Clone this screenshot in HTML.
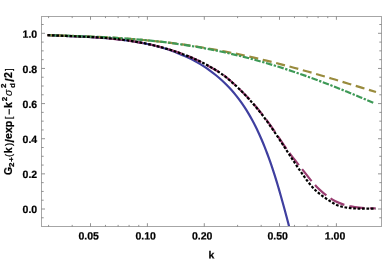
<!DOCTYPE html>
<html><head><meta charset="utf-8"><title>plot</title>
<style>
html,body{margin:0;padding:0;background:#fff;}
body{width:382px;height:261px;overflow:hidden;position:relative;font-family:"Liberation Sans",sans-serif;}
</style></head><body>
<svg width="382" height="261" viewBox="0 0 382 261" style="position:absolute;left:0;top:0">
<rect x="0" y="0" width="382" height="261" fill="#fff"/>
<defs><clipPath id="c"><rect x="41.5" y="16.5" width="340.0" height="210.0"/></clipPath></defs>
<g clip-path="url(#c)" fill="none" stroke-width="2.1" stroke-linejoin="round">
<path d="M47.55,35.07C49.99,35.20 52.42,35.33 54.85,35.44C57.29,35.55 59.72,35.66 62.16,35.76C64.59,35.87 67.03,35.97 69.47,36.07C71.90,36.17 74.34,36.28 76.78,36.39C79.21,36.49 81.65,36.60 84.09,36.72C86.53,36.84 88.96,36.97 91.40,37.11C93.84,37.25 96.27,37.40 98.71,37.56C101.15,37.73 103.58,37.91 106.02,38.11C108.45,38.31 110.89,38.53 113.32,38.77C115.75,39.01 118.18,39.27 120.62,39.56C123.05,39.85 125.48,40.17 127.90,40.51C130.33,40.85 132.76,41.23 135.18,41.64C137.61,42.04 140.03,42.48 142.45,42.96C144.86,43.44 147.28,43.95 149.68,44.50C152.08,45.05 154.47,45.64 156.86,46.27C159.24,46.89 161.60,47.56 163.96,48.28C166.31,48.99 168.65,49.75 170.97,50.56C173.28,51.36 175.58,52.21 177.86,53.11C180.13,54.01 182.39,54.96 184.62,55.96C186.84,56.96 189.05,58.01 191.22,59.12C193.39,60.23 195.53,61.39 197.64,62.60C199.75,63.82 201.83,65.10 203.88,66.42C205.92,67.75 207.92,69.13 209.89,70.57C211.86,72.00 213.79,73.48 215.68,75.02C217.57,76.55 219.41,78.14 221.21,79.77C223.02,81.40 224.77,83.08 226.48,84.80C228.19,86.52 229.86,88.29 231.47,90.10C233.08,91.92 234.64,93.77 236.15,95.66C237.67,97.56 239.13,99.49 240.55,101.46C241.97,103.43 243.34,105.43 244.68,107.47C246.01,109.51 247.30,111.57 248.55,113.67C249.80,115.77 251.01,117.89 252.18,120.05C253.35,122.20 254.48,124.37 255.58,126.57C256.68,128.77 257.75,130.99 258.78,133.22C259.81,135.46 260.82,137.72 261.79,139.99C262.76,142.26 263.70,144.54 264.62,146.83C265.53,149.13 266.42,151.43 267.29,153.75C268.15,156.06 268.99,158.38 269.81,160.70C270.63,163.03 271.43,165.35 272.20,167.68C272.98,170.01 273.74,172.34 274.49,174.67C275.23,177.00 275.95,179.33 276.67,181.66C277.38,184.00 278.08,186.33 278.76,188.67C279.45,191.01 280.12,193.35 280.78,195.69C281.45,198.03 282.10,200.37 282.75,202.71C283.39,205.06 284.03,207.40 284.67,209.75C285.30,212.10 285.93,214.45 286.55,216.80C287.18,219.15 287.80,221.51 288.42,223.87C289.04,226.22 289.67,228.58 290.29,230.94" stroke="#3f3f9f" stroke-width="2.2"/>
<path d="M47.53,35.17C50.25,35.27 52.97,35.37 55.70,35.47C58.42,35.57 61.15,35.67 63.89,35.77C66.62,35.87 69.36,35.98 72.10,36.10C74.83,36.21 77.58,36.33 80.32,36.47C83.06,36.60 85.80,36.75 88.54,36.90C91.28,37.06 94.03,37.24 96.77,37.43C99.51,37.62 102.24,37.83 104.98,38.06C107.71,38.29 110.45,38.54 113.18,38.82C115.90,39.10 118.63,39.40 121.35,39.73C124.07,40.06 126.78,40.42 129.49,40.81C132.19,41.20 134.89,41.62 137.59,42.08C140.28,42.53 142.96,43.03 145.64,43.56C148.32,44.09 150.98,44.66 153.64,45.27C156.30,45.89 158.94,46.54 161.58,47.24C164.21,47.94 166.84,48.69 169.45,49.48C172.06,50.28 174.66,51.12 177.24,52.02C179.83,52.91 182.40,53.86 184.96,54.87C187.51,55.87 190.05,56.93 192.58,58.06C195.10,59.18 197.61,60.36 200.10,61.60C202.59,62.83 205.05,64.12 207.48,65.45C209.90,66.77 212.29,68.12 214.62,69.50C216.95,70.87 219.23,72.22 221.45,73.67C223.66,75.13 225.82,76.75 227.93,78.50C230.04,80.25 232.10,82.11 234.12,84.01C236.15,85.90 238.15,87.81 240.11,89.73C242.08,91.65 244.01,93.58 245.91,95.54C247.81,97.50 249.68,99.49 251.51,101.52C253.34,103.54 255.13,105.61 256.89,107.70C258.65,109.80 260.38,111.93 262.07,114.08C263.76,116.23 265.42,118.42 267.05,120.62C268.68,122.83 270.28,125.05 271.85,127.30C273.41,129.54 274.95,131.81 276.48,134.08C278.00,136.35 279.51,138.63 281.04,140.90C282.56,143.17 284.09,145.43 285.65,147.67C287.21,149.91 288.80,152.13 290.44,154.31C292.08,156.50 293.77,158.65 295.47,160.80C297.17,162.94 298.88,165.07 300.59,167.22C302.29,169.37 303.97,171.53 305.65,173.69C307.33,175.86 309.02,178.01 310.75,180.12C312.48,182.23 314.25,184.29 316.13,186.27C318.00,188.24 319.98,190.11 322.08,191.87C324.17,193.64 326.33,195.34 328.52,196.99C330.71,198.63 333.01,200.09 335.44,201.32C337.87,202.55 340.40,203.56 343.00,204.40C345.60,205.23 348.25,205.88 350.94,206.40C353.63,206.91 356.35,207.28 359.09,207.56C361.83,207.83 364.58,208.01 367.32,208.14C370.06,208.27 372.79,208.34 375.49,208.41" stroke="#993d71" stroke-width="2.2" stroke-dasharray="15.3 5.2" stroke-dashoffset="1.27"/>
<path d="M47.50,35.18C52.06,35.30 56.62,35.42 61.19,35.56C65.75,35.69 70.31,35.83 74.88,35.98C79.44,36.14 84.00,36.31 88.56,36.49C93.12,36.68 97.69,36.89 102.25,37.12C106.81,37.35 111.38,37.61 115.94,37.89C120.50,38.18 125.06,38.49 129.62,38.84C134.19,39.18 138.75,39.56 143.31,39.98C147.88,40.39 152.44,40.84 157.00,41.32C161.56,41.81 166.12,42.33 170.69,42.89C175.25,43.46 179.81,44.06 184.38,44.70C188.94,45.34 193.50,46.03 198.06,46.75C202.62,47.47 207.19,48.24 211.75,49.05C216.31,49.85 220.88,50.70 225.44,51.59C230.00,52.47 234.56,53.40 239.12,54.37C243.69,55.34 248.25,56.34 252.81,57.39C257.38,58.43 261.94,59.51 266.50,60.63C271.06,61.74 275.62,62.89 280.19,64.08C284.75,65.26 289.31,66.47 293.88,67.72C298.44,68.96 303.00,70.23 307.56,71.53C312.12,72.82 316.69,74.14 321.25,75.48C325.81,76.81 330.38,78.17 334.94,79.54C339.50,80.91 344.06,82.29 348.62,83.69C353.19,85.08 357.75,86.47 362.31,87.87C366.88,89.27 371.44,90.67 376.00,92.07" stroke="#998b3d" stroke-width="2.2" stroke-dasharray="9.1 4.7" stroke-dashoffset="3.67"/>
<path d="M47.50,35.16C52.03,35.30 56.56,35.43 61.09,35.57C65.62,35.71 70.15,35.84 74.68,35.99C79.21,36.14 83.74,36.30 88.28,36.48C92.81,36.66 97.34,36.85 101.87,37.07C106.40,37.29 110.93,37.54 115.46,37.81C119.99,38.09 124.52,38.39 129.05,38.73C133.58,39.07 138.11,39.44 142.64,39.86C147.17,40.27 151.70,40.72 156.23,41.22C160.76,41.72 165.29,42.26 169.82,42.84C174.36,43.43 178.89,44.06 183.42,44.75C187.95,45.43 192.48,46.16 197.01,46.95C201.54,47.73 206.07,48.57 210.60,49.46C215.13,50.35 219.66,51.29 224.19,52.28C228.72,53.28 233.25,54.33 237.78,55.43C242.31,56.53 246.84,57.69 251.38,58.90C255.91,60.11 260.44,61.37 264.97,62.69C269.50,64.01 274.03,65.37 278.56,66.79C283.09,68.21 287.62,69.68 292.15,71.20C296.68,72.72 301.21,74.29 305.74,75.90C310.27,77.51 314.80,79.17 319.33,80.87C323.86,82.57 328.39,84.31 332.93,86.09C337.46,87.87 341.99,89.69 346.52,91.54C351.05,93.39 355.58,95.27 360.11,97.18C364.64,99.09 369.17,101.03 373.70,102.99" stroke="#3d9956" stroke-width="2.2" stroke-dasharray="6.5 1.6 2.3 1.6" stroke-dashoffset="7.03"/>
<path d="M47.52,35.05C50.26,35.22 53.00,35.36 55.74,35.50C58.49,35.63 61.24,35.75 63.99,35.87C66.74,35.98 69.49,36.10 72.25,36.21C75.00,36.32 77.76,36.43 80.51,36.55C83.27,36.67 86.03,36.79 88.78,36.93C91.54,37.07 94.29,37.22 97.05,37.40C99.80,37.57 102.55,37.76 105.30,37.98C108.05,38.20 110.79,38.44 113.53,38.71C116.28,38.99 119.01,39.30 121.75,39.64C124.48,39.98 127.21,40.35 129.93,40.76C132.65,41.17 135.36,41.61 138.07,42.09C140.78,42.57 143.48,43.09 146.17,43.65C148.86,44.21 151.54,44.81 154.21,45.45C156.88,46.09 159.54,46.77 162.19,47.49C164.84,48.22 167.48,48.99 170.11,49.80C172.74,50.61 175.35,51.47 177.95,52.38C180.55,53.28 183.14,54.24 185.71,55.24C188.28,56.24 190.84,57.30 193.38,58.40C195.92,59.51 198.44,60.66 200.94,61.87C203.44,63.08 205.91,64.35 208.34,65.67C210.76,67.00 213.14,68.38 215.44,69.83C217.75,71.28 219.98,72.79 222.17,74.39C224.35,75.98 226.51,77.66 228.62,79.40C230.74,81.15 232.83,82.96 234.87,84.83C236.92,86.69 238.93,88.61 240.89,90.56C242.85,92.51 244.78,94.49 246.66,96.51C248.54,98.52 250.39,100.57 252.20,102.65C254.00,104.72 255.78,106.83 257.51,108.96C259.25,111.09 260.95,113.25 262.62,115.43C264.29,117.62 265.93,119.82 267.54,122.05C269.15,124.27 270.73,126.52 272.29,128.78C273.85,131.04 275.39,133.32 276.91,135.60C278.44,137.89 279.95,140.19 281.45,142.49C282.96,144.80 284.45,147.11 285.95,149.42C287.45,151.73 288.95,154.04 290.46,156.35C291.96,158.65 293.48,160.96 295.01,163.25C296.54,165.55 298.08,167.84 299.65,170.11C301.22,172.39 302.81,174.65 304.43,176.89C306.05,179.14 307.69,181.37 309.41,183.53C311.12,185.69 312.92,187.76 314.85,189.69C316.78,191.61 318.87,193.34 321.05,194.98C323.24,196.62 325.52,198.17 327.81,199.72C330.11,201.27 332.45,202.80 334.89,204.05C337.33,205.31 339.90,206.25 342.57,206.86C345.24,207.48 347.98,207.85 350.72,208.12C353.46,208.38 356.21,208.53 358.97,208.60C361.73,208.68 364.50,208.69 367.25,208.69C370.01,208.68 372.76,208.67 375.50,208.70" stroke="#000000" stroke-width="2.2" stroke-dasharray="2.7 1.7" stroke-dashoffset="4.40"/>
</g>
<g stroke="#a6a6a6" stroke-width="1" fill="none" shape-rendering="crispEdges">
<rect x="41.5" y="16.5" width="340.0" height="210.0"/>
</g>
<path d="M41.5,217.78h2.2 M381.5,217.78h-2.2 M41.5,209.00h3.5 M381.5,209.00h-3.5 M41.5,200.21h2.2 M381.5,200.21h-2.2 M41.5,191.43h2.2 M381.5,191.43h-2.2 M41.5,182.64h2.2 M381.5,182.64h-2.2 M41.5,173.86h3.5 M381.5,173.86h-3.5 M41.5,165.07h2.2 M381.5,165.07h-2.2 M41.5,156.29h2.2 M381.5,156.29h-2.2 M41.5,147.50h2.2 M381.5,147.50h-2.2 M41.5,138.72h3.5 M381.5,138.72h-3.5 M41.5,129.94h2.2 M381.5,129.94h-2.2 M41.5,121.15h2.2 M381.5,121.15h-2.2 M41.5,112.36h2.2 M381.5,112.36h-2.2 M41.5,103.58h3.5 M381.5,103.58h-3.5 M41.5,94.79h2.2 M381.5,94.79h-2.2 M41.5,86.01h2.2 M381.5,86.01h-2.2 M41.5,77.22h2.2 M381.5,77.22h-2.2 M41.5,68.44h3.5 M381.5,68.44h-3.5 M41.5,59.65h2.2 M381.5,59.65h-2.2 M41.5,50.87h2.2 M381.5,50.87h-2.2 M41.5,42.08h2.2 M381.5,42.08h-2.2 M41.5,33.30h3.5 M381.5,33.30h-3.5 M41.5,24.51h2.2 M381.5,24.51h-2.2 M90.51,226.5v-3.3 M90.51,16.5v3.3 M147.40,226.5v-3.3 M147.40,16.5v3.3 M204.29,226.5v-3.3 M204.29,16.5v3.3 M279.51,226.5v-3.3 M279.51,16.5v3.3 M336.40,226.5v-3.3 M336.40,16.5v3.3 M48.58,226.5v-1.6 M48.58,16.5v1.6 M72.19,226.5v-1.6 M72.19,16.5v1.6 M105.47,226.5v-1.6 M105.47,16.5v1.6 M118.12,226.5v-1.6 M118.12,16.5v1.6 M129.08,226.5v-1.6 M129.08,16.5v1.6 M138.75,226.5v-1.6 M138.75,16.5v1.6 M237.58,226.5v-1.6 M237.58,16.5v1.6 M261.19,226.5v-1.6 M261.19,16.5v1.6 M294.47,226.5v-1.6 M294.47,16.5v1.6 M307.12,226.5v-1.6 M307.12,16.5v1.6 M318.08,226.5v-1.6 M318.08,16.5v1.6 M327.75,226.5v-1.6 M327.75,16.5v1.6" stroke="#777" stroke-width="0.8" fill="none"/>
</svg>
<svg width="382" height="261" viewBox="0 0 382 261" style="position:absolute;left:0;top:0;will-change:transform;opacity:0.999">
<g font-family="'Liberation Sans', sans-serif" font-weight="bold" font-size="10.5px" fill="#000" stroke="#000" stroke-width="0.22">
<text transform="translate(37.2,37.8) rotate(0.05)" text-anchor="end">1.0</text>
<text transform="translate(37.2,72.9) rotate(0.05)" text-anchor="end">0.8</text>
<text transform="translate(37.2,107.9) rotate(0.05)" text-anchor="end">0.6</text>
<text transform="translate(37.2,143.0) rotate(0.05)" text-anchor="end">0.4</text>
<text transform="translate(37.2,178.0) rotate(0.05)" text-anchor="end">0.2</text>
<text transform="translate(37.2,213.1) rotate(0.05)" text-anchor="end">0.0</text>
<text transform="translate(78.5,239.6) rotate(0.05)">0.05</text>
<text transform="translate(135.5,239.6) rotate(0.05)">0.10</text>
<text transform="translate(191.9,239.6) rotate(0.05)">0.20</text>
<text transform="translate(267.5,239.6) rotate(0.05)">0.50</text>
<text transform="translate(324.8,239.6) rotate(0.05)">1.00</text>
<text transform="translate(208.6,258.5) rotate(0.05)">k</text>
<text transform="translate(12.1,175.0) rotate(-90)" font-size="10.5px" >G</text>
<text transform="translate(14.0,167.0) rotate(-90)" font-size="8px" >2</text>
<text transform="translate(14.0,161.8) rotate(-90)" font-size="8px" >+</text>
<text transform="translate(11.799999999999999,157.0) rotate(-90)" font-size="9.5px" font-weight="normal">(</text>
<text transform="translate(12.1,153.3) rotate(-90)" font-size="10.5px" >k</text>
<text transform="translate(11.799999999999999,146.0) rotate(-90)" font-size="9.5px" font-weight="normal">)</text>
<text transform="translate(13.9,142.6) rotate(-90)" font-size="12.5px" >/</text>
<text transform="translate(12.1,138.9) rotate(-90)" font-size="10.5px" >e</text>
<text transform="translate(12.1,133.0) rotate(-90)" font-size="10.5px" >x</text>
<text transform="translate(12.1,127.3) rotate(-90)" font-size="10.5px" >p</text>
<text transform="translate(11.799999999999999,119.2) rotate(-90)" font-size="9.5px" font-weight="normal">[</text>
<text transform="translate(12.1,108.1) rotate(-90)" font-size="10.5px" >k</text>
<text transform="translate(6.6,101.2) rotate(-90)" font-size="8px" >2</text>
<text transform="translate(12.1,95.9) rotate(-90)" font-size="10.5px" font-style="italic" font-weight="normal" stroke-width="0.12">σ</text>
<text transform="translate(6.3999999999999995,88.1) rotate(-90)" font-size="8px" >2</text>
<text transform="translate(15.2,88.1) rotate(-90)" font-size="8px" >d</text>
<text transform="translate(13.9,81.8) rotate(-90)" font-size="12.5px" >/</text>
<text transform="translate(12.1,78.1) rotate(-90)" font-size="10.5px" >2</text>
<text transform="translate(11.799999999999999,71.0) rotate(-90)" font-size="9.5px" font-weight="normal">]</text>
<path d="M9.2,109.1V114.6" stroke="#000" stroke-width="1.1" fill="none"/>
</g>
</svg>
</body></html>
